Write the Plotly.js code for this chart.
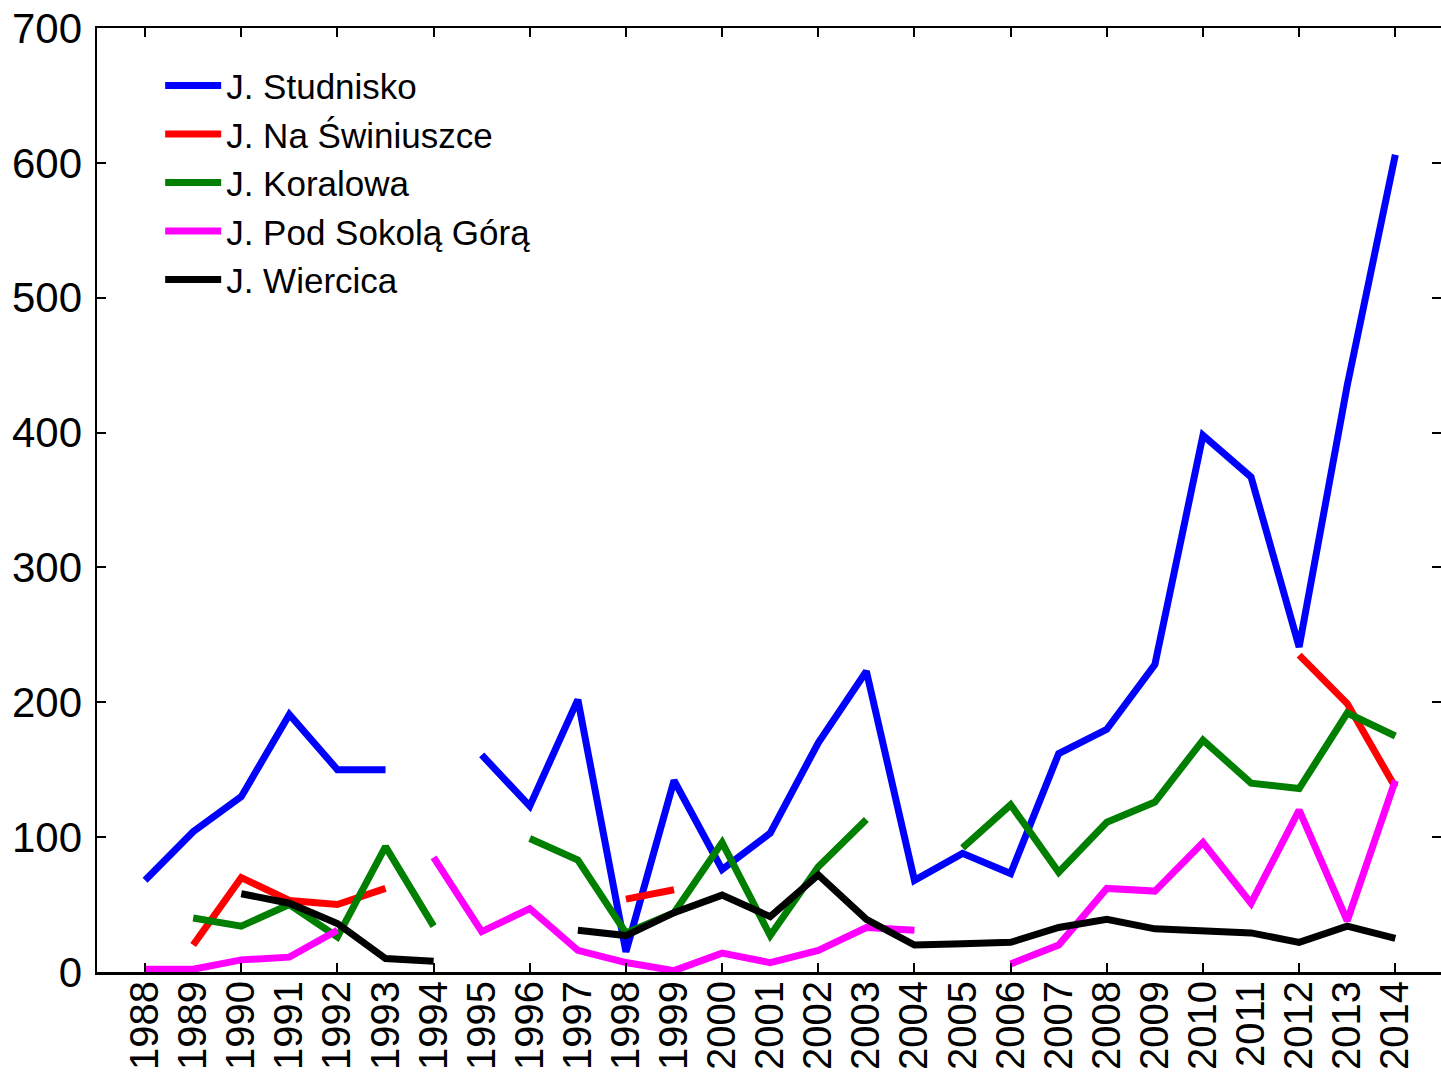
<!DOCTYPE html>
<html>
<head>
<meta charset="utf-8">
<script src="https://cdn.plot.ly/plotly-3.0.1.min.js"></script>
<style>
html,body{margin:0;padding:0;background:#fff;overflow:hidden;}
#chart{width:1441px;height:1074px;}
</style>
</head>
<body>
<div id="chart"></div>
<script>
const years = [1988,1989,1990,1991,1992,1993,1994,1995,1996,1997,1998,1999,2000,2001,2002,2003,2004,2005,2006,2007,2008,2009,2010,2011,2012,2013,2014];
const yearLabels = years.map(String);
const tickYears = [1988,1990,1992,1994,1996,1998,2000,2002,2004,2006,2008,2010,2012,2014];
const yTicks = [0,100,200,300,400,500,600,700];

const studnisko   = [68,104,130,191,150,150,null,161,123,202,15,142,76,103,170,223,68,88,73,162,180,228,398,367,241,435,606];
const naSwiniuszce= [null,20,70,53,50,62,null,null,null,null,54,61,null,null,null,null,null,null,null,null,null,null,null,null,235,199,137];
const koralowa    = [null,40,34,50,26,93,34,null,99,83,29,44,96,27,78,113,null,92,124,74,111,126,172,140,136,192,175];
const podSokola   = [2,2,9,11,31,null,85,30,47,16,7,1,14,7,16,33,31,null,6,20,62,60,96,51,120,38,142];
const wiercica    = [null,null,58,51,36,10,8,null,null,31,27,44,57,41,72,39,20,21,22,33,39,32,30,29,22,34,25];

const names = ['J. Studnisko','J. Na Świniuszce','J. Koralowa','J. Pod Sokolą Górą','J. Wiercica'];
const colors = ['#0000ff','#ff0000','#007f00','#ff00ff','#000000'];
const series = [studnisko, naSwiniuszce, koralowa, podSokola, wiercica];

// both x axes share one range; the last series sits on the labelled overlay axis
const traces = series.map((s,i)=>({
  x: years, y: s, name: names[i], type:'scatter', mode:'lines',
  xaxis: i === series.length-1 ? 'x2' : 'x', yaxis:'y',
  line:{color:colors[i], width:7}, connectgaps:false
}));

const xr = [1987, 2014.95];
const layout = {
  width:1441, height:1074,
  margin:{l:97, r:0, t:28, b:102},
  paper_bgcolor:'#fff', plot_bgcolor:'#fff',
  font:{family:'Liberation Sans, Arial, sans-serif', color:'#000'},
  showlegend:true,
  legend:{x:0.047, y:0.97, xanchor:'left', yanchor:'top', bgcolor:'rgba(0,0,0,0)',
          font:{size:35, color:'#000'}, itemwidth:56, tracegroupgap:0},
  xaxis:{range:xr, tickvals:tickYears, showticklabels:false, ticks:'inside', ticklen:9, tickwidth:2, tickcolor:'#000',
         showline:true, linecolor:'#000', linewidth:2.5, mirror:'ticks', showgrid:false, zeroline:false},
  xaxis2:{range:xr, overlaying:'x', side:'bottom', anchor:'y', tickvals:years, ticktext:yearLabels, ticks:'',
          tickangle:-90, tickfont:{size:40, color:'#000'}, showline:false, showgrid:false, zeroline:false},
  yaxis:{range:[0,700], tickvals:yTicks, ticks:'inside', ticklen:9, tickwidth:2, tickcolor:'#000',
         showline:true, linecolor:'#000', linewidth:2.5, mirror:'ticks', showgrid:false, zeroline:false,
         tickfont:{size:42, color:'#000'}, ticklabelstandoff:4}
};
Plotly.newPlot('chart', traces, layout, {displayModeBar:false, staticPlot:true});
</script>
</body>
</html>
